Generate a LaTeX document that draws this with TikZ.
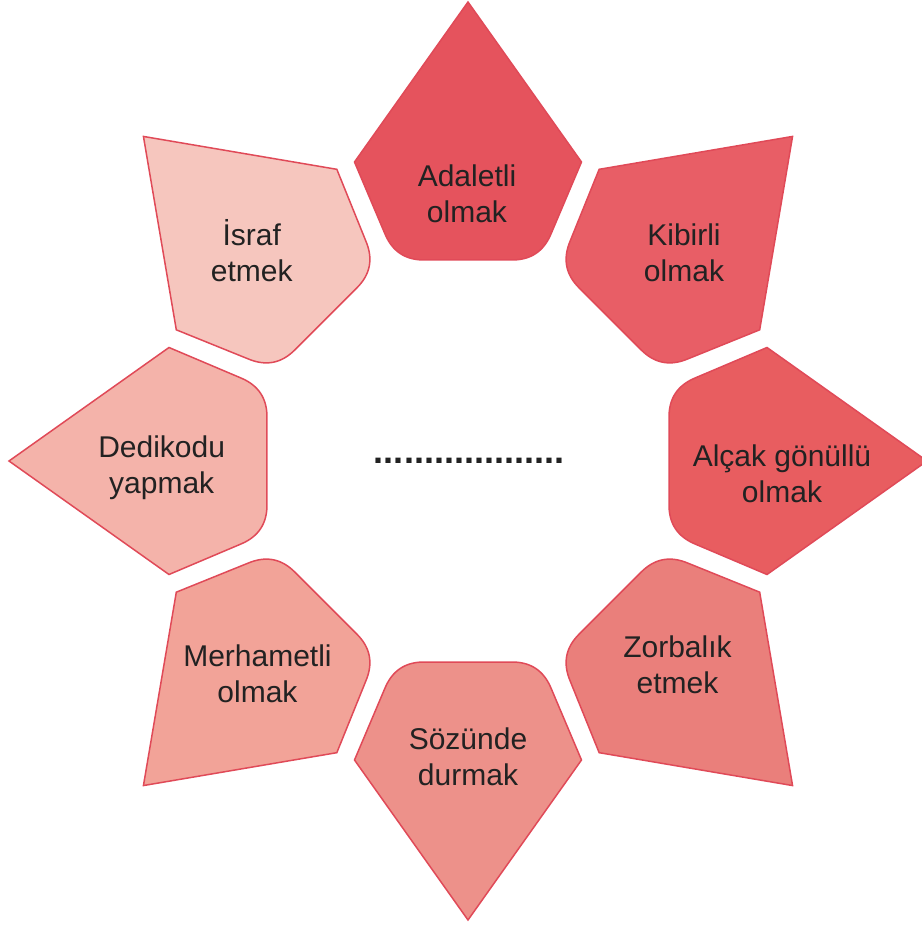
\documentclass[tikz,border=0pt]{standalone}
\usepackage{fontspec}
\setmainfont{Liberation Sans}
\definecolor{cA}{HTML}{E5535D}
\definecolor{cB}{HTML}{E85E66}
\definecolor{cC}{HTML}{E85D60}
\definecolor{cD}{HTML}{EA7F7B}
\definecolor{cE}{HTML}{ED918A}
\definecolor{cF}{HTML}{F2A398}
\definecolor{cG}{HTML}{F4B3AA}
\definecolor{cH}{HTML}{F6C6BE}
\definecolor{edge}{HTML}{E04A58}
\definecolor{ink}{HTML}{222222}
\newcommand\ls{\rule[-8pt]{0pt}{36pt}}
\begin{document}
\begin{tikzpicture}[x=1pt,y=1pt,
  petal/.style={draw=edge,line width=1.5pt,line join=miter},
  lbl/.style={text=ink,align=center,inner sep=0pt,font=\fontsize{30}{36}\selectfont},
  dots/.style={text=ink,inner sep=0pt,font=\bfseries\fontsize{36}{40}\selectfont}]
\useasboundingbox (-468,-465) rectangle (453,461);
\foreach \ang/\col in {0/cA,-45/cB,-90/cC,-135/cD,180/cE,135/cF,90/cG,45/cH}{
  \begin{scope}[rotate=\ang]
    \draw[petal,fill=\col] (0,459) -- (113.5,299) -- (82.9,226.8)
      .. controls (75.6,209.6) and (62.7,201) .. (44,201) -- (-44,201)
      .. controls (-62.7,201) and (-75.6,209.6) .. (-82.9,226.8)
      -- (-113.5,299) -- cycle;
  \end{scope}
}
\node[lbl] (adaletli) at (-1,266.3) {\ls Adaletli\\\ls olmak};
\node[lbl] (kibirli) at (216,207.3) {\ls Kibirli\\\ls olmak};
\node[lbl] (alcak) at (314,-13) {\ls Alçak gönüllü\\\ls olmak};
\node[lbl] (zorbalik) at (209.5,-204.7) {\ls Zorbalık\\\ls etmek};
\node[lbl] (sozunde) at (0,-296) {\ls Sözünde\\\ls durmak};
\node[lbl] (merhametli) at (-210.5,-213.7) {\ls Merhametli\\\ls olmak};
\node[lbl] (dedikodu) at (-306.3,-4.3) {\ls Dedikodu\\\ls yapmak};
\node[lbl] (israf) at (-216.3,207.3) {\ls İsraf\\\ls etmek};
\node[dots,anchor=base] (center) at (1,-2) {...................};
\end{tikzpicture}
\end{document}
